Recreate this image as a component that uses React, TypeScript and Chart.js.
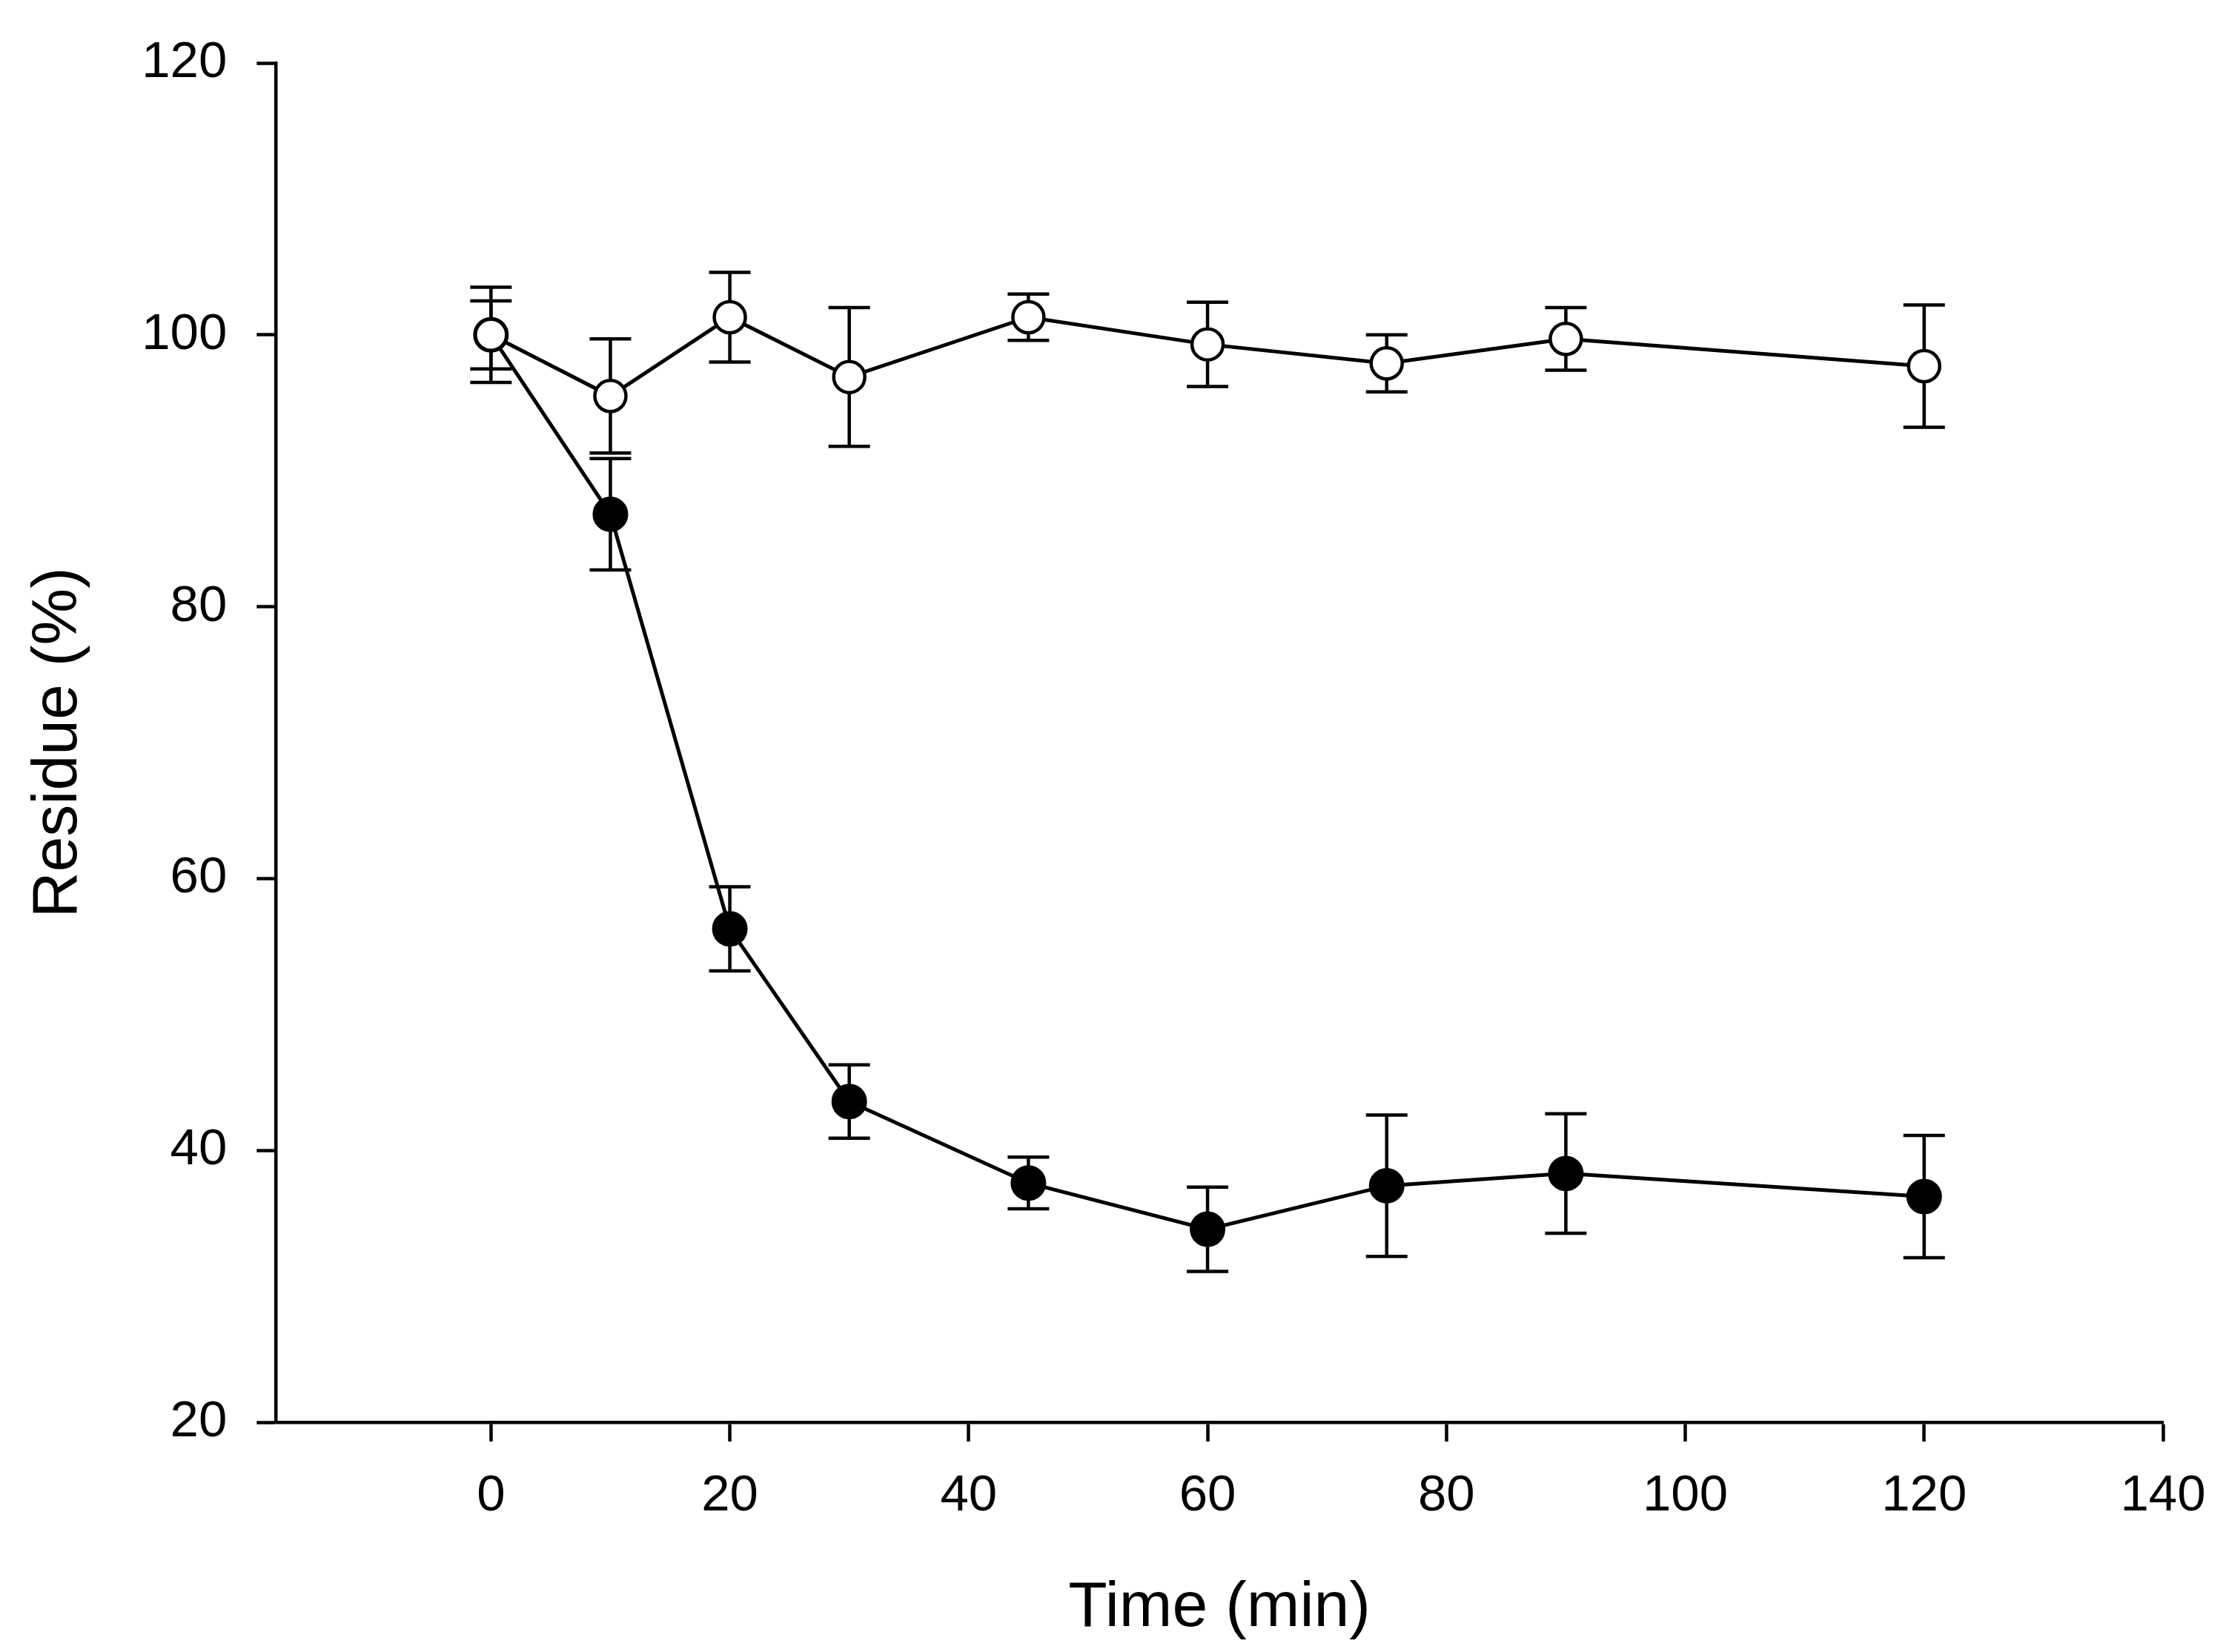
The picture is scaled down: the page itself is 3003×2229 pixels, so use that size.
import React, { useEffect, useRef } from 'react';
import Chart from 'chart.js/auto';

// === Data ===
const TIME_MIN = [0, 10, 20, 30, 45, 60, 75, 90, 120];
const CONTROL_RESIDUE = [100, 95.5, 101.3, 96.9, 101.3, 99.3, 97.9, 99.7, 97.7];
const CONTROL_ERROR = [3.5, 4.2, 3.3, 5.1, 1.7, 3.1, 2.1, 2.3, 4.5];
const TREATED_RESIDUE = [100, 86.8, 56.3, 43.6, 37.6, 34.2, 37.4, 38.3, 36.6];
const TREATED_ERROR = [2.5, 4.1, 3.1, 2.7, 1.9, 3.1, 5.2, 4.4, 4.5];
const X_TICKS = [0, 20, 40, 60, 80, 100, 120, 140];

const FONT = "'Liberation Sans', Arial, Helvetica, sans-serif";
const INK = '#000000';

// draws mean ± error whiskers under the points, using the chart's own scales
const errorBarPlugin = {
  id: 'errorBars',
  beforeDatasetsDraw(chart: any) {
    const { ctx, scales } = chart;
    const xs = scales.x;
    const ys = scales.y;
    const capHalf = 28;
    ctx.save();
    ctx.strokeStyle = INK;
    ctx.lineWidth = 4.5;
    chart.data.datasets.forEach((ds: any) => {
      ds.data.forEach((pt: any, i: number) => {
        const err = ds.errors[i];
        const x = xs.getPixelForValue(pt.x);
        const top = ys.getPixelForValue(pt.y + err);
        const bot = ys.getPixelForValue(pt.y - err);
        ctx.beginPath();
        ctx.moveTo(x, top);
        ctx.lineTo(x, bot);
        ctx.moveTo(x - capHalf, top);
        ctx.lineTo(x + capHalf, top);
        ctx.moveTo(x - capHalf, bot);
        ctx.lineTo(x + capHalf, bot);
        ctx.stroke();
      });
    });
    ctx.restore();
  },
};

const App: React.FC = () => {
  const canvasRef = useRef<HTMLCanvasElement>(null);

  useEffect(() => {
    if (!canvasRef.current) return;

    const chart = new Chart(canvasRef.current, {
      type: 'line',
      data: {
        datasets: [
          {
            label: 'Control',
            data: TIME_MIN.map((t, i) => ({ x: t, y: CONTROL_RESIDUE[i] })),
            errors: CONTROL_ERROR,
            borderColor: INK,
            borderWidth: 5,
            pointRadius: 21,
            pointBorderWidth: 4.5,
            pointBackgroundColor: '#ffffff',
            pointBorderColor: INK,
            tension: 0,
          } as any,
          {
            label: 'Treated',
            data: TIME_MIN.map((t, i) => ({ x: t, y: TREATED_RESIDUE[i] })),
            errors: TREATED_ERROR,
            borderColor: INK,
            borderWidth: 5,
            pointRadius: 22,
            pointBorderWidth: 4,
            pointBackgroundColor: INK,
            pointBorderColor: INK,
            tension: 0,
          } as any,
        ],
      },
      options: {
        animation: false,
        responsive: false,
        devicePixelRatio: 1,
        layout: { padding: { left: 0, top: 85, right: 85, bottom: 7 } },
        plugins: {
          legend: { display: false },
          tooltip: { enabled: false },
        },
        scales: {
          x: {
            type: 'linear',
            min: -18,
            max: 140,
            afterBuildTicks: (scale: any) => {
              scale.ticks = X_TICKS.map((v) => ({ value: v }));
            },
            // keep the "140" label overhang from pulling the axis end inwards
            afterFit: (scale: any) => {
              scale.paddingRight = 0;
            },
            grid: { drawOnChartArea: false, tickLength: 26, tickWidth: 4.5, tickColor: INK },
            border: { display: true, color: INK, width: 4.5 },
            ticks: { color: INK, padding: 33, font: { family: FONT, size: 69 } },
            title: {
              display: true,
              text: 'Time (min)',
              color: INK,
              font: { family: FONT, size: 86 },
              padding: { top: 25, bottom: 0 },
            },
          },
          y: {
            type: 'linear',
            min: 20,
            max: 120,
            ticks: { stepSize: 20, color: INK, padding: 40, font: { family: FONT, size: 69 } },
            grid: { drawOnChartArea: false, tickLength: 26, tickWidth: 4.5, tickColor: INK },
            border: { display: true, color: INK, width: 4.5 },
            title: {
              display: true,
              text: 'Residue (%)',
              color: INK,
              font: { family: FONT, size: 86 },
              padding: { top: 28, bottom: 20 },
            },
          },
        },
      },
      plugins: [errorBarPlugin],
    });

    return () => {
      chart.destroy();
    };
  }, []);

  return (
    <div style={{ position: 'absolute', left: 0, top: 0, width: 3003, height: 2229, background: '#ffffff' }}>
      <canvas ref={canvasRef} width={3003} height={2229} style={{ display: 'block' }} />
    </div>
  );
};

export default App;
